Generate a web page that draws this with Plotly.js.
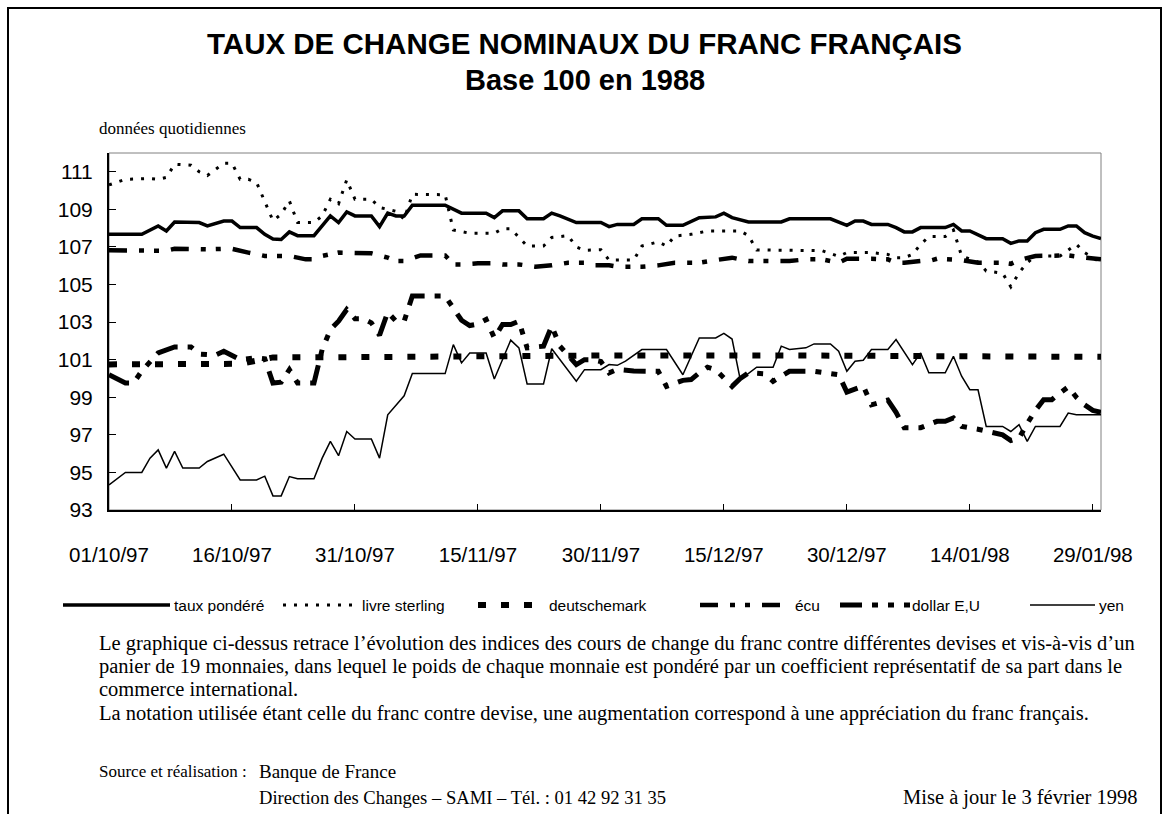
<!DOCTYPE html>
<html><head><meta charset="utf-8">
<script src="https://cdn.plot.ly/plotly-3.0.1.min.js"></script>
<style>html,body{margin:0;padding:0;background:#fff}#chart{width:1169px;height:814px}</style>
</head><body><div id="chart"></div>
<script>
// ---------- data (day offsets from 01/10/1997, index values base 100 in 1988) ----------
const seriesNames = ['taux pondéré', 'livre sterling', 'deutschemark', 'écu', 'dollar E,U', 'yen'];
const tickLabels = ['01/10/97', '16/10/97', '31/10/97', '15/11/97', '30/11/97', '15/12/97', '30/12/97', '14/01/98', '29/01/98'];
const tickDates = ['1997-10-01', '1997-10-16', '1997-10-31', '1997-11-15', '1997-11-30', '1997-12-15', '1997-12-30', '1998-01-14', '1998-01-29'];
const yTicks = [93, 95, 97, 99, 101, 103, 105, 107, 109, 111];

const tauxDays = [0,4,6,7,8,11,12,14,15,16,18,19,20,21,22,23,25,26,27,28,29,30,32,33,34,35,36,37,41,43,46,47,48,50,51,53,54,55,56,57,60,61,62,64,65,67,68,70,72,74,75,76,78,82,83,88,90,91,92,93,95,96,97,98,99,102,103,104,105,106,107,109,110,111,112,113,114,116,117,118,119,120,121];
const tauxVals = [107.67,107.67,108.12,107.85,108.33,108.3,108.12,108.38,108.38,108.03,108.03,107.67,107.42,107.4,107.8,107.6,107.6,108.12,108.65,108.3,108.86,108.65,108.65,108.08,108.8,108.65,108.65,109.22,109.22,108.8,108.8,108.56,108.92,108.92,108.5,108.5,108.8,108.65,108.47,108.3,108.3,108.08,108.2,108.2,108.5,108.5,108.15,108.15,108.56,108.6,108.8,108.56,108.33,108.33,108.5,108.5,108.15,108.38,108.38,108.2,108.2,108.03,107.8,107.8,108.03,108.03,108.2,107.85,107.85,107.67,107.44,107.44,107.19,107.32,107.32,107.76,107.94,107.94,108.12,108.12,107.76,107.58,107.44];

const livreDays = [0,2,5,6,7,8,10,11,12,13,14,15,16,17,18,20,21,22,23,25,26,27,28,29,30,32,33,34,35,36,37,41,42,44,47,48,49,51,53,54,56,57,58,60,61,64,65,67,68,69,71,73,77,78,79,87,89,90,93,95,96,97,98,99,100,102,103,104,106,107,109,110,111,112,113,116,118,119,120,121];
const livreVals = [110.3,110.6,110.64,110.6,110.7,111.4,111.35,111.0,110.8,111.14,111.46,111.46,110.6,110.6,110.43,108.4,108.74,109.45,108.3,108.3,108.65,109.54,109.3,110.57,109.54,109.54,109.1,109.0,108.9,108.47,109.8,109.78,107.9,107.73,107.73,107.97,107.97,107.05,107.05,107.5,107.6,107.0,106.82,106.85,106.3,106.3,107.05,107.27,107.05,107.58,107.67,107.85,107.85,107.6,106.84,106.8,106.5,106.7,106.7,106.6,106.43,106.43,106.6,107.14,107.55,107.55,107.9,106.52,106.2,105.72,105.6,104.88,105.63,106.16,106.52,106.52,107.14,106.7,106.45,106.16];

const dmDays = [0,5,10,16,18,20,28,36,38,60,85,110,112,121];
const dmVals = [100.75,100.75,100.76,100.78,100.95,101.12,101.13,101.15,101.22,101.22,101.22,101.22,101.15,101.15];

const ecuDays = [0,2,4,7,8,10,12,14,15,17,19,22,24,25,26,28,30,32,34,35,36,38,41,42,43,45,47,48,50,52,54,56,58,59,61,62,65,67,69,72,74,76,78,83,85,87,89,90,93,95,96,97,99,100,101,104,106,109,110,111,113,115,117,119,121];
const ecuVals = [106.82,106.82,106.8,106.8,106.9,106.87,106.87,106.9,106.9,106.7,106.52,106.52,106.34,106.34,106.52,106.7,106.7,106.66,106.43,106.25,106.25,106.55,106.55,106.07,106.07,106.13,106.13,106.07,106.07,105.95,106.02,106.16,106.16,106.02,106.02,105.95,105.95,106.02,106.16,106.16,106.3,106.43,106.25,106.25,106.34,106.34,106.16,106.37,106.37,106.34,106.16,106.16,106.25,106.25,106.37,106.3,106.16,106.16,106.1,106.3,106.52,106.52,106.55,106.43,106.34];

const usdDays = [0,2,3,4,6,8,10,11,13,14,16,18,19,20,21,22,23,25,26,27,28,29,30,31,32,33,34,35,36,37,41,42,43,44,45,46,47,48,49,50,51,53,54,55,57,58,59,60,61,62,64,67,68,70,71,72,73,74,76,77,78,80,81,83,86,89,90,92,93,95,96,97,99,101,102,103,104,106,108,109,110,111,112,113,114,115,116,117,118,119,120,121];
const usdVals = [100.2,99.76,99.76,100.4,101.36,101.68,101.68,101.3,101.25,101.45,101.0,101.1,101.05,99.76,99.8,100.47,99.76,99.76,101.54,102.6,103.05,103.67,103.18,103.18,102.96,102.3,103.53,103.05,103.05,104.39,104.39,103.8,103.1,102.82,102.9,103.14,102.16,102.87,102.87,103.05,101.63,101.72,102.79,101.72,100.74,101.0,101.0,100.9,100.3,100.48,100.4,100.38,99.58,99.9,99.94,100.3,100.6,100.47,99.58,100.0,100.3,100.25,99.85,100.38,100.38,100.2,99.28,99.6,98.6,98.85,98.2,97.38,97.38,97.72,97.72,97.9,97.45,97.3,97.1,97.0,96.7,96.83,97.6,98.3,98.87,98.87,99.23,99.55,99.0,98.6,98.3,98.2];

const yenDays = [0,2,4,5,6,7,8,9,11,12,14,16,18,19,20,21,22,23,25,26,27,28,29,30,32,33,34,35,36,37,41,42,43,44,46,47,49,50,51,53,54,57,58,60,61,62,63,65,68,70,72,74,75,76,77,79,81,82,83,85,86,88,89,90,91,92,93,95,96,98,99,100,102,103,104,105,106,107,109,110,111,112,113,116,117,118,121];
const yenVals = [94.34,95.0,95.0,95.76,96.2,95.23,96.12,95.23,95.23,95.58,95.97,94.6,94.6,94.8,93.75,93.75,94.78,94.66,94.66,95.76,96.65,95.89,97.18,96.78,96.78,95.76,98.07,98.55,99.08,100.26,100.26,101.8,100.83,101.36,101.36,99.97,102.04,101.63,99.71,99.71,101.58,99.85,100.47,100.47,100.74,100.7,100.92,101.54,101.54,100.2,102.16,102.16,102.4,102.1,99.94,100.6,100.6,101.72,101.54,101.63,101.84,101.84,101.45,100.38,100.92,100.97,101.54,101.54,102.07,100.74,101.36,100.3,100.3,101.18,100.12,99.4,99.4,97.45,97.45,97.18,97.54,96.65,97.45,97.45,98.16,98.07,98.07];

// ---------- helpers ----------
function dayToDate(d) {
  const t = new Date(Date.UTC(1997, 9, 1 + d));
  return t.toISOString().slice(0, 10);
}
const L = 109, R = 1101, T = 153, B = 510;   // plot area in pixels
const px = x => (x - L) / (R - L);
const py = y => (B - y) / (B - T);

const styles = [
  {width: 3.5, dash: 'solid'},
  {width: 3, dash: '3px,8px'},
  {width: 6, dash: '8px,15px'},
  {width: 4.5, dash: '18px,12px,5px,10px,5px,12px'},
  {width: 5, dash: '22px,10px,6px,10px,6px,10px'},
  {width: 1.5, dash: 'solid'}
];
const seriesData = [
  [tauxDays, tauxVals], [livreDays, livreVals], [dmDays, dmVals],
  [ecuDays, ecuVals], [usdDays, usdVals], [yenDays, yenVals]
];
const drawOrder = [5, 2, 4, 3, 1, 0];
const traces = drawOrder.map(i => ({
  type: 'scatter', mode: 'lines', name: seriesNames[i],
  x: seriesData[i][0].map(dayToDate), y: seriesData[i][1],
  line: {color: '#000', width: styles[i].width, dash: styles[i].dash},
  showlegend: false, hoverinfo: 'x+y+name'
}));

// custom legend (sample line start/end and label start, in pixels)
const legendPos = [[63, 170, 172], [283, 358, 360], [478, 545, 547], [700, 790, 793], [840, 910, 910], [1030, 1095, 1097]];
const legendY = 605;
const shapes = [
  {type: 'rect', xref: 'paper', yref: 'paper', x0: 0, x1: 1, y0: 0, y1: 1, line: {color: '#808080', width: 1}, layer: 'below'},
  {type: 'rect', xref: 'paper', yref: 'paper', x0: px(8), x1: px(1161), y0: py(8), y1: py(840), line: {color: '#000', width: 2}, layer: 'below'}
];
const annotations = [];
const serif = '"Liberation Serif", "Times New Roman", serif';
const sans = 'Arial, "Liberation Sans", sans-serif';
seriesNames.forEach((name, i) => {
  const p = legendPos[i];
  shapes.push({type: 'line', xref: 'paper', yref: 'paper', x0: px(p[0]), x1: px(p[1]), y0: py(legendY), y1: py(legendY),
    line: {color: '#000', width: styles[i].width, dash: styles[i].dash}});
  annotations.push({xref: 'paper', yref: 'paper', x: px(p[2]), y: py(legendY), xanchor: 'left', yanchor: 'middle',
    text: name, showarrow: false, font: {family: sans, size: 15.5, color: '#000'}});
});
// [text, x px, y px, anchor, font size]
const textLines = [
  ['données quotidiennes', 97, 128, 'left', 17],
  ['Le graphique ci-dessus retrace l’évolution des indices des cours de change du franc contre différentes devises et vis-à-vis d’un', 97, 643, 'left', 20.5],
  ['panier de 19 monnaies, dans lequel le poids de chaque monnaie est pondéré par un coefficient représentatif de sa part dans le', 97, 666, 'left', 20.5],
  ['commerce international.', 97, 689, 'left', 20.5],
  ['La notation utilisée étant celle du franc contre devise, une augmentation correspond à une appréciation du franc français.', 97, 713, 'left', 20.5],
  ['Source et réalisation :', 97, 771, 'left', 17],
  ['Banque de France', 257, 771, 'left', 19],
  ['Direction des Changes – SAMI – Tél. : 01 42 92 31 35', 257, 797, 'left', 18.6],
  ['Mise à jour le 3 février 1998', 1140, 797, 'right', 20.5]
];
textLines.forEach(t => annotations.push({xref: 'paper', yref: 'paper', x: px(t[1]), y: py(t[2]), xanchor: t[3], yanchor: 'middle',
  text: t[0], showarrow: false, font: {family: serif, size: t[4], color: '#000'}}));
// second title line
annotations.push({xref: 'paper', yref: 'paper', x: px(584.5), y: py(80), xanchor: 'center', yanchor: 'middle',
  text: '<b>Base 100 en 1988</b>', showarrow: false, font: {family: sans, size: 29, color: '#000'}});

const layout = {
  width: 1169, height: 814,
  margin: {l: L, r: 1169 - R, t: T, b: 814 - B, pad: 0},
  paper_bgcolor: '#fff', plot_bgcolor: '#fff',
  title: {text: '<b>TAUX DE CHANGE NOMINAUX DU FRANC FRANÇAIS</b>',
    font: {family: sans, size: 29.5, color: '#000'},
    x: 0.5, xanchor: 'center', xref: 'container', y: 1 - 44 / 814, yanchor: 'middle', yref: 'container'},
  xaxis: {type: 'date', range: ['1997-10-01', '1998-01-30'], tickvals: tickDates, ticktext: tickLabels,
    ticks: 'inside', ticklen: 6, tickcolor: '#000', tickwidth: 1, showline: true, linecolor: '#000', linewidth: 2,
    showgrid: false, zeroline: false, ticklabelstandoff: 25,
    tickfont: {family: sans, size: 20.5, color: '#000'}},
  yaxis: {range: [93, 112], tickvals: yTicks, ticks: 'inside', ticklen: 7, tickcolor: '#000', tickwidth: 1,
    showline: true, linecolor: '#000', linewidth: 2, showgrid: false, zeroline: false, ticklabelstandoff: 10,
    tickfont: {family: sans, size: 21, color: '#000'}},
  shapes: shapes, annotations: annotations, showlegend: false
};
Plotly.newPlot('chart', traces, layout, {displayModeBar: false, staticPlot: true});
</script></body></html>
